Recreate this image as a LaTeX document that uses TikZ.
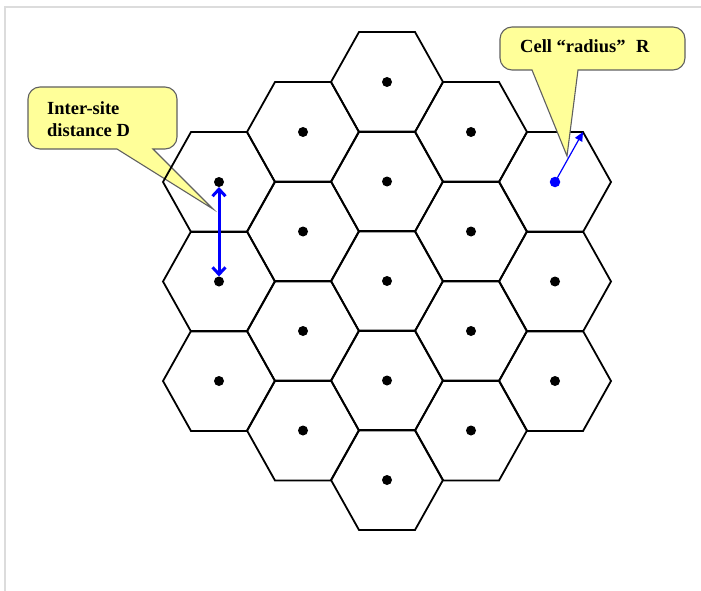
\documentclass[tikz,border=0pt]{standalone}
\usepackage{fontspec}
\setmainfont{Liberation Serif}
\usetikzlibrary{arrows.meta,calc}
\definecolor{calloutfill}{HTML}{FFFF99}
\definecolor{framegray}{HTML}{DCDCDC}
\begin{document}
\begin{tikzpicture}[x=1pt,y=-1pt,
  hexcell/.style={draw=black,line width=1.8pt,line join=miter},
  celldot/.style={circle,fill=black,inner sep=0pt,minimum size=10pt},
  bluedot/.style={circle,fill=blue,inner sep=0pt,minimum size=10.5pt},
  callout/.style={draw=gray!75!black,line width=1.1pt,fill=calloutfill},
  callouttext/.style={font=\bfseries\fontsize{18.5}{22}\selectfont,inner sep=0pt,anchor=base west,align=left},
  distarrow/.style={draw=blue,line width=3pt,{Straight Barb[length=7pt,width=13pt,line width=3pt]}-{Straight Barb[length=7pt,width=13pt,line width=3pt]},shorten <=5pt,shorten >=5pt},
  radarrow/.style={draw=blue,line width=1.2pt,-{Triangle[length=9pt,width=8pt]}}
]
\useasboundingbox (0,0) rectangle (701,591);
\fill[white] (0,0) rectangle (701,591);
% frame lines
\draw[framegray,line width=2pt] (5,591) -- (5,7) -- (701,7);

% left callout (below the cells)
\draw[callout] (40,87) -- (165,87) arc[start angle=-90,end angle=0,radius=12] -- (177,137)
  arc[start angle=0,end angle=90,radius=12] -- (153,149) -- (213,209) -- (117,149) -- (40,149)
  arc[start angle=90,end angle=180,radius=12] -- (28,99) arc[start angle=180,end angle=270,radius=12] -- cycle;
\node[callouttext] (lbl1) at (47,115) {Inter-site};
\node[callouttext] (lbl2) at (47,136) {distance D};

% cell centres
\foreach \name/\cx/\cy in {
  a1/219/182, a2/219/281.5, a3/219/381,
  b1/303/132, b2/303/231.5, b3/303/331, b4/303/430.5,
  c1/387/82, c2/387/181.5, c3/387/281, c4/387/380.5, c5/387/480,
  d1/471/132, d2/471/231.5, d3/471/331, d4/471/430.5,
  e1/555/182, e2/555/281.5, e3/555/381}{
  \coordinate (\name) at (\cx,\cy);
  \draw[hexcell] (\name) ++(-56,0) -- ++(28,-50) -- ++(56,0) -- ++(28,50) -- ++(-28,50) -- ++(-56,0) -- cycle;
}
\coordinate (e1v) at ($(e1)+(28,-50)$);
\foreach \name in {a1,a2,a3,b1,b2,b3,b4,c1,c2,c3,c4,c5,d1,d2,d3,d4,e2,e3}{
  \node[celldot] (dot-\name) at (\name) {};
}
\node[bluedot] (dot-e1) at (e1) {};

% distance arrow
\draw[distarrow] (a1) -- (a2);

% right callout (above the cells)
\draw[callout] (512,27) -- (673,27) arc[start angle=-90,end angle=0,radius=12] -- (685,58)
  arc[start angle=0,end angle=90,radius=12] -- (578,70) -- (567,156) -- (532,70) -- (512,70)
  arc[start angle=90,end angle=180,radius=12] -- (500,39) arc[start angle=180,end angle=270,radius=12] -- cycle;
\node[callouttext] (lbl3) at (520,53) {Cell “radius”\hspace{6pt} R};

% radius arrow
\draw[radarrow] (dot-e1.center) -- (e1v);
\end{tikzpicture}
\end{document}
